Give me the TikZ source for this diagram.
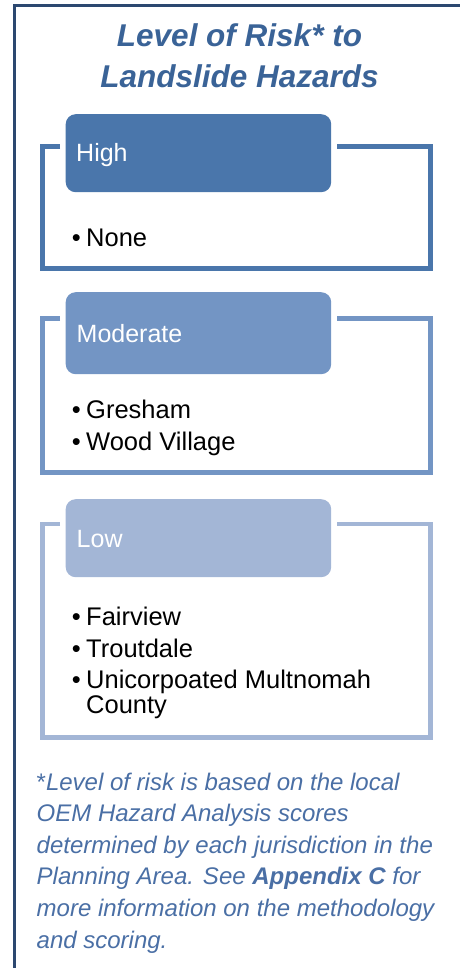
\documentclass[tikz,border=0pt]{standalone}
\usepackage{fontspec}
\setmainfont{Liberation Sans}
\definecolor{titleblue}{HTML}{3A6397}
\definecolor{navy}{HTML}{2C4870}
\definecolor{hicol}{HTML}{4A76AB}
\definecolor{modcol}{HTML}{7395C4}
\definecolor{lowcol}{HTML}{A3B6D6}
\definecolor{notecol}{HTML}{4A6FA5}
\tikzset{
  hdrbox/.style={rounded corners=10pt, inner sep=0pt, minimum width=265.5pt, minimum height=78pt, anchor=north west},
  hdrtext/.style={text=white, inner sep=0pt, anchor=base west, font=\fontsize{25}{25}\selectfont},
  itemtext/.style={text=black, inner sep=0pt, anchor=base west, align=left, font=\fontsize{25.5}{25}\selectfont},
  grpframe/.style={line width=4.5pt, line join=miter},
}
\newcommand{\bul}{\llap{\textbullet\hspace{5.5pt}}}
\begin{document}
\begin{tikzpicture}[x=1pt,y=-1pt]
\useasboundingbox (0,0) rectangle (459,968);
% outer frame
\coordinate (ftr) at (461,5.7);
\coordinate (fbl) at (14.2,970);
\draw[navy, line width=3pt] (fbl) |- (ftr);
% title (base = last line)
\node[text=titleblue, inner sep=0pt, anchor=base, align=center,
  font=\fontsize{31.5}{41}\selectfont\bfseries\itshape] (title) at (239.5,88) {Level of Risk* to\\Landslide Hazards};

% High group
\draw[grpframe, hicol] (60,146.5) -- (42.5,146.5) -- (42.5,268.5) -- (430.5,268.5) -- (430.5,146.5) -- (337,146.5);
\node[hdrbox, fill=hicol] (hbox) at (65.5,114) {};
\node[hdrtext] (htext) at (76,162) {High};
\node[itemtext] (h1) at (86,247) {\bul None};

% Moderate group
\draw[grpframe, modcol] (60,318.5) -- (42.5,318.5) -- (42.5,472.5) -- (430.5,472.5) -- (430.5,318.5) -- (337,318.5);
\node[hdrbox, fill=modcol, minimum height=82pt] (mbox) at (65.5,292) {};
\node[hdrtext] (mtext) at (76.5,342) {Moderate};
\node[itemtext] (m1) at (86,418) {\bul Gresham};
\node[itemtext] (m2) at (86,450) {\bul Wood Village};

% Low group
\draw[grpframe, lowcol] (60,524) -- (42.5,524) -- (42.5,737.5) -- (430.5,737.5) -- (430.5,524) -- (337,524);
\node[hdrbox, fill=lowcol] (lbox) at (65.5,499) {};
\node[hdrtext] (ltext) at (76.5,547) {Low};
\node[itemtext] (l1) at (86,625) {\bul Fairview};
\node[itemtext] (l2) at (86,657) {\bul Troutdale};
\node[itemtext] (l3) at (86,713) {\bul Unicorpoated Multnomah\\County};

% footnote (base = last line)
\node[text=notecol, inner sep=0pt, anchor=base west, align=left,
  font=\fontsize{24}{31.6}\selectfont\itshape] (note) at (36.5,948)
  {{\upshape*}Level of risk is based on the local\\
   OEM Hazard Analysis scores\\
   determined by each jurisdiction in the\\
   Planning Area. See \textbf{Appendix C} for\\
   more information on the methodology\\
   and scoring.};
\end{tikzpicture}
\end{document}
